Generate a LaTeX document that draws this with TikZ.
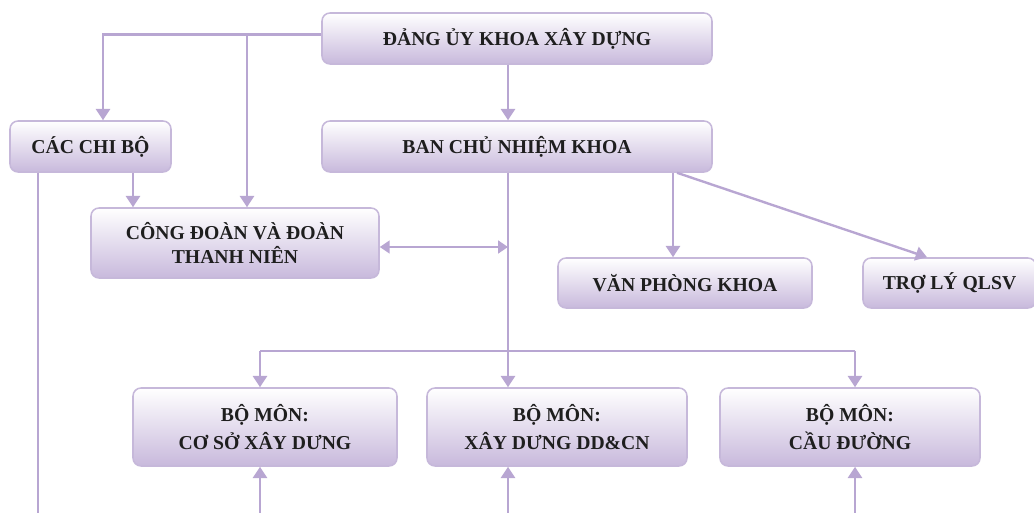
\documentclass[tikz,border=0pt]{standalone}
\usepackage{fontspec}
\setmainfont{Liberation Serif}
\usetikzlibrary{positioning,calc,arrows.meta}
\definecolor{lineColor}{RGB}{184,166,210}
\definecolor{boxBottom}{RGB}{200,185,220}
\definecolor{boxBorder}{RGB}{198,184,218}
\definecolor{textColor}{RGB}{30,30,30}
\newcommand{\px}{0.025cm}
\tikzstyle{chart} = [x = \px, y = -\px]
\tikzstyle{unitBox} = [draw=boxBorder, line width=1.1pt, rounded corners = .2cm, top color=white, bottom color=boxBottom, text=textColor, font=\bfseries\fontsize{14}{16}\selectfont, align=center, inner sep=0pt]
\tikzstyle{linkLine} = [draw=lineColor, line width=1.7pt]
\tikzstyle{linkArrow} = [linkLine, -{Triangle[width=10pt,length=8pt]}]
\tikzstyle{linkBoth} = [linkLine, {Triangle[width=9pt,length=7pt]}-{Triangle[width=9pt,length=7pt]}]
\newcommand{\unitBox}[6]{\node [unitBox, minimum width=#4*\px, minimum height=#5*\px] (#1) at (#2,#3) {#6};}

\begin{document}
\begin{tikzpicture}[chart]
  \useasboundingbox (0,0) rectangle (1034,513);

  % boxes
  \unitBox{dangUy}{517}{38.5}{390}{51}{ĐẢNG ỦY KHOA XÂY DỰNG}
  \unitBox{chiBo}{90.5}{146.5}{161}{51}{CÁC CHI BỘ}
  \unitBox{banChuNhiem}{517}{146.5}{390}{51}{BAN CHỦ NHIỆM KHOA}
  \unitBox{congDoan}{235}{243}{288}{70}{CÔNG ĐOÀN VÀ ĐOÀN\\[1pt]THANH NIÊN}
  \unitBox{vanPhong}{685}{283}{254}{50}{VĂN PHÒNG KHOA}
  \unitBox{troLy}{949.5}{283}{173}{50}{TRỢ LÝ QLSV}
  \unitBox{boMonCS}{265}{427}{264}{78}{BỘ MÔN:\\[4pt]CƠ SỞ XÂY DƯNG}
  \unitBox{boMonXD}{557}{427}{260}{78}{BỘ MÔN:\\[4pt]XÂY DƯNG DD\&CN}
  \unitBox{boMonCD}{850}{427}{260}{78}{BỘ MÔN:\\[4pt]CẦU ĐƯỜNG}

  \coordinate (bottomEdge) at (0,520);

  % centre trunk
  \coordinate (spine) at ($(dangUy.south)+(-9,0)$);
  \draw [linkArrow] (spine) -- (spine |- banChuNhiem.north);
  \draw [linkArrow] (spine |- banChuNhiem.south) -- (spine |- boMonXD.north);
  \draw [linkArrow] (spine |- bottomEdge) -- (spine |- boMonXD.south);
  \coordinate (congDoanOut) at ($(congDoan.east)+(0,4)$);
  \draw [linkBoth] (congDoanOut) -- (congDoanOut -| spine);

  % left side
  \coordinate (dangUyOut) at ($(dangUy.west)+(0,-4)$);
  \coordinate (chiBoIn) at ($(chiBo.north)+(12.5,0)$);
  \draw [linkArrow] (dangUyOut) -| (chiBoIn);
  \coordinate (congDoanIn) at ($(congDoan.north)+(12,0)$);
  \draw [linkArrow] (congDoanIn |- dangUyOut) -- (congDoanIn);
  \coordinate (chiBoOut) at ($(chiBo.south)+(42.5,0)$);
  \draw [linkArrow] (chiBoOut) -- (chiBoOut |- congDoan.north);
  \coordinate (chiBoDown) at ($(chiBo.south)+(-52.5,0)$);
  \draw [linkLine] (chiBoDown) -- (chiBoDown |- bottomEdge);

  % right side
  \coordinate (vanPhongIn) at ($(vanPhong.north)+(-12,0)$);
  \draw [linkArrow] (vanPhongIn |- banChuNhiem.south) -- (vanPhongIn);
  \draw [linkArrow] ($(banChuNhiem.south)+(160,0)$) -- ($(troLy.north)+(-22.5,0)$);

  % departments
  \coordinate (busLine) at ($(boMonXD.north)+(0,-36)$);
  \coordinate (csIn) at ($(boMonCS.north)+(-5,0)$);
  \coordinate (cdIn) at ($(boMonCD.north)+(5,0)$);
  \draw [linkLine] (busLine -| csIn) -- (busLine -| cdIn);
  \draw [linkArrow] (busLine -| csIn) -- (csIn);
  \draw [linkArrow] (busLine -| cdIn) -- (cdIn);
  \draw [linkArrow] (csIn |- bottomEdge) -- (csIn |- boMonCS.south);
  \draw [linkArrow] (cdIn |- bottomEdge) -- (cdIn |- boMonCD.south);
\end{tikzpicture}
\end{document}
